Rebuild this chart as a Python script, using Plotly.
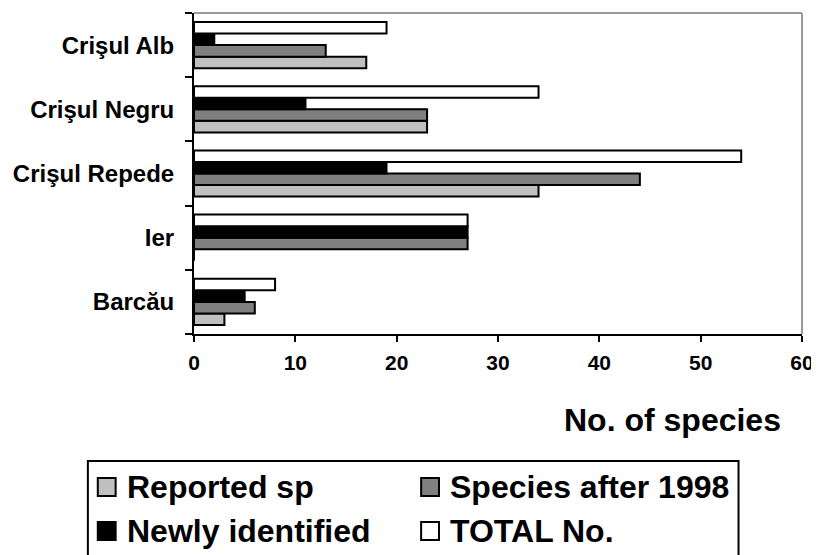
import plotly.graph_objects as go

# ---- data ----
rivers = ["Barcău", "Ier", "Crişul Repede", "Crişul Negru", "Crişul Alb"]  # bottom -> top
series_names = ["Reported sp", "Species after 1998", "Newly identified", "TOTAL No."]
reported_sp = [3, 0, 34, 23, 17]
species_after_1998 = [6, 27, 44, 23, 13]
newly_identified = [5, 27, 19, 11, 2]
total_no = [8, 27, 54, 34, 19]
x_ticks = [0, 10, 20, 30, 40, 50, 60]

series_values = [reported_sp, species_after_1998, newly_identified, total_no]
colors = ["#c0c0c0", "#808080", "#000000", "#ffffff"]

W, H = 819, 555
OFF = 8  # default page body margin
L, R, T, B = 193, 806, 13, 334  # plot area in window pixels

FONT = "Liberation Sans, Arial, sans-serif"


def px(x):
    return (x - L) / (R - L)


def py(y):
    return (B - y) / (B - T)


fig = go.Figure()
for name, vals, col in zip(series_names, series_values, colors):
    fig.add_trace(go.Bar(
        y=rivers, x=vals, name=name, orientation="h",
        marker=dict(color=col, line=dict(color="#000000", width=2)),
        showlegend=False,
    ))

shapes = [
    dict(type="line", xref="paper", yref="paper", x0=0, x1=1, y0=1, y1=1,
         line=dict(color="#9a9a9a", width=2)),
    dict(type="line", xref="paper", yref="paper", x0=1, x1=1, y0=0, y1=1,
         line=dict(color="#9a9a9a", width=2)),
    dict(type="rect", xref="paper", yref="paper",
         x0=px(86), x1=px(742), y0=py(570), y1=py(461),
         line=dict(color="#000000", width=2), fillcolor="rgba(0,0,0,0)"),
]

annotations = [
    dict(text="No. of species", xref="paper", yref="paper",
         x=px(787), y=py(420), xanchor="right", yanchor="middle",
         showarrow=False, font=dict(family=FONT, size=32, color="#000", weight="bold")),
]

leg_pos = [(96, 487), (422, 487), (96, 531), (422, 531)]
for (lx, ly), name, col in zip(leg_pos, series_names, colors):
    shapes.append(dict(type="rect", xref="paper", yref="paper",
                       x0=px(lx), x1=px(lx + 18), y0=py(ly + 9), y1=py(ly - 9),
                       line=dict(color="#000000", width=2), fillcolor=col))
    annotations.append(dict(text=name, xref="paper", yref="paper",
                            x=px(lx + 27), y=py(ly), xanchor="left", yanchor="middle",
                            showarrow=False,
                            font=dict(family=FONT, size=32, color="#000", weight="bold")))

fig.update_layout(
    width=W - OFF, height=H - OFF,
    margin=dict(l=L - OFF, r=W - R, t=T - OFF, b=H - B, pad=0),
    paper_bgcolor="#ffffff", plot_bgcolor="#ffffff",
    barmode="group", bargap=0.28, bargroupgap=0,
    shapes=shapes, annotations=annotations,
    font=dict(family=FONT, color="#000"),
)
fig.update_xaxes(
    range=[0, 60], tickvals=x_ticks, ticktext=[str(v) for v in x_ticks],
    showgrid=False, zeroline=False, showline=True, linecolor="#000", linewidth=2,
    ticks="outside", ticklen=6, tickwidth=2, tickcolor="#000",
    ticklabelstandoff=3,
    tickfont=dict(family=FONT, size=21, color="#000", weight="bold"),
)
fig.update_yaxes(
    categoryorder="array", categoryarray=rivers, tickson="boundaries",
    showgrid=False, zeroline=False, showline=True, linecolor="#000", linewidth=2,
    ticks="outside", ticklen=7, tickwidth=2, tickcolor="#000",
    ticklabelstandoff=13,
    tickfont=dict(family=FONT, size=24, color="#000", weight="bold"),
)

fig.write_html("out.html")
